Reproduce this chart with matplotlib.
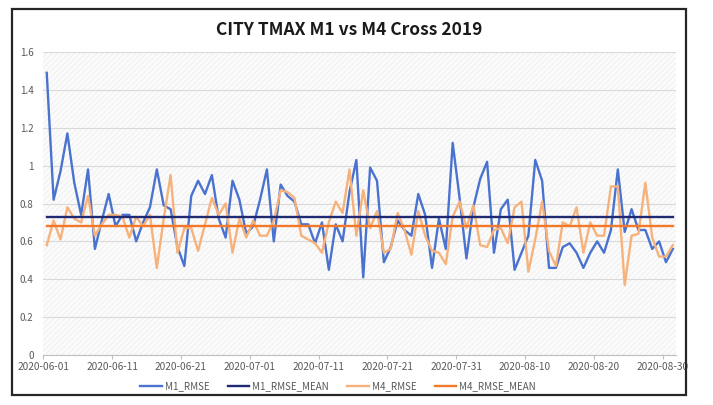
import matplotlib
matplotlib.use('Agg')
import matplotlib.pyplot as plt
import matplotlib.dates as mdates
import pandas as pd
from matplotlib.patches import Rectangle

plt.rcParams['font.family'] = ['Noto Sans CJK KR', 'DejaVu Sans']
plt.rcParams['hatch.linewidth'] = 0.5

TITLE = 'CITY TMAX M1 vs M4 Cross 2019'
dates = pd.date_range('2020-06-01', '2020-08-31', freq='D')

m1_rmse = [
    1.49, 0.82, 0.97, 1.17, 0.91, 0.74, 0.98, 0.56, 0.71, 0.85,
    0.68, 0.74, 0.74, 0.60, 0.70, 0.78, 0.98, 0.79, 0.77, 0.57,
    0.47, 0.84, 0.92, 0.85, 0.95, 0.72, 0.62, 0.92, 0.82, 0.64,
    0.68, 0.82, 0.98, 0.60, 0.90, 0.84, 0.81, 0.69, 0.69, 0.59,
    0.70, 0.45, 0.69, 0.60, 0.86, 1.03, 0.41, 0.99, 0.92, 0.49,
    0.57, 0.71, 0.66, 0.63, 0.85, 0.74, 0.46, 0.72, 0.56, 1.12,
    0.83, 0.51, 0.78, 0.93, 1.02, 0.54, 0.77, 0.82, 0.45, 0.54,
    0.63, 1.03, 0.92, 0.46, 0.46, 0.57, 0.59, 0.54, 0.46, 0.54,
    0.60, 0.54, 0.66, 0.98, 0.65, 0.77, 0.66, 0.66, 0.56, 0.60,
    0.49, 0.56,
]
m4_rmse = [
    0.58, 0.71, 0.61, 0.78, 0.72, 0.70, 0.84, 0.63, 0.69, 0.74,
    0.74, 0.73, 0.62, 0.73, 0.68, 0.74, 0.46, 0.72, 0.95, 0.54,
    0.67, 0.67, 0.55, 0.69, 0.83, 0.74, 0.80, 0.54, 0.72, 0.62,
    0.71, 0.63, 0.63, 0.71, 0.87, 0.86, 0.83, 0.63, 0.61, 0.59,
    0.54, 0.70, 0.81, 0.75, 0.98, 0.63, 0.87, 0.67, 0.76, 0.54,
    0.56, 0.75, 0.66, 0.53, 0.76, 0.63, 0.55, 0.54, 0.48, 0.73,
    0.81, 0.67, 0.79, 0.58, 0.57, 0.66, 0.67, 0.59, 0.78, 0.81,
    0.44, 0.61, 0.81, 0.55, 0.47, 0.70, 0.68, 0.78, 0.54, 0.70,
    0.63, 0.63, 0.89, 0.89, 0.37, 0.63, 0.64, 0.91, 0.62, 0.52,
    0.52, 0.58,
]
m1_mean = 0.73
m4_mean = 0.68

yticks = [0, 0.2, 0.4, 0.6, 0.8, 1.0, 1.2, 1.4, 1.6]
ytick_labels = ['0', '0.2', '0.4', '0.6', '0.8', '1', '1.2', '1.4', '1.6']

C_M1 = '#4a72cf'
C_M1_MEAN = '#1f2a72'
C_M4 = '#f7b27c'
C_M4_MEAN = '#f2792a'
GRAY_TXT = '#595959'

fig = plt.figure(figsize=(7.13, 4.05), dpi=100)
fig.patches.append(Rectangle((12 / 713, 10 / 405), 674 / 713, 386 / 405,
                             transform=fig.transFigure, fill=False,
                             edgecolor='#262626', linewidth=1.6, zorder=10))

ax = fig.add_axes([43.3 / 713, 50 / 405, 633 / 713, 303 / 405])
ax.add_patch(Rectangle((0, 0), 1, 1, transform=ax.transAxes, facecolor='#fbfbfb',
                       edgecolor='#ececec', hatch='//////', linewidth=0, zorder=0))

x = mdates.date2num(dates)
n = len(x)
ax.plot(x, m1_rmse, color=C_M1, lw=1.7, label='M1_RMSE', zorder=3)
ax.plot(x, [m1_mean] * n, color=C_M1_MEAN, lw=1.7, label='M1_RMSE_MEAN', zorder=4)
ax.plot(x, m4_rmse, color=C_M4, lw=1.7, label='M4_RMSE', zorder=3)
ax.plot(x, [m4_mean] * n, color=C_M4_MEAN, lw=1.7, label='M4_RMSE_MEAN', zorder=4)

ax.set_xlim(x[0] - 0.5, x[-1] + 0.5)
ax.set_ylim(0, 1.6)
ax.set_yticks(yticks)
ax.set_yticklabels(ytick_labels)
ax.set_xticks(x[::10] - 0.5)
ax.set_xticklabels([d.strftime('%Y-%m-%d') for d in dates[::10]])
ax.grid(axis='y', color='#d9d9d9', lw=0.8, zorder=1)
ax.set_axisbelow(True)

for s in ['top', 'right', 'left']:
    ax.spines[s].set_visible(False)
ax.spines['bottom'].set_color('#bfbfbf')
ax.tick_params(axis='y', length=0, pad=7, labelsize=7, labelcolor=GRAY_TXT)
ax.tick_params(axis='x', length=3, color='#bfbfbf', pad=2, labelsize=7.3, labelcolor=GRAY_TXT)

fig.text(349 / 713, 1 - 30 / 405, TITLE, ha='center', va='center',
         fontsize=12.5, fontweight='bold', color='#1a1a1a')

fig.legend(loc='center', bbox_to_anchor=(338 / 713, 1 - 386 / 405), ncol=4,
           frameon=False, fontsize=7, handlelength=2.2, columnspacing=1.9,
           labelcolor=GRAY_TXT, handletextpad=0.3)

fig.savefig('out.png', dpi=100, facecolor='white')
